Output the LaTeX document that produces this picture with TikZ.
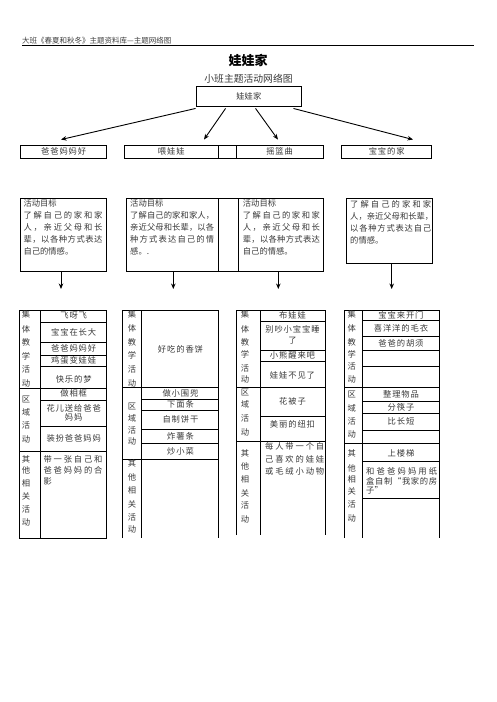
\documentclass[tikz,border=0pt]{standalone}
\usepackage{fontspec}
\setmainfont{Noto Sans CJK SC}
\usetikzlibrary{arrows.meta}
\makeatletter
\def\jlx#1#2{#1\ifx\relax#2\expandafter\@gobble\else\hfil\expandafter\@firstofone\fi{\jlx#2}}
\def\spx#1#2{#1\ifx\relax#2\expandafter\@gobble\else\kern0.9pt\expandafter\@firstofone\fi{\spx#2}}
\makeatother
\newcommand{\jl}[2]{\makebox[#1pt][s]{\jlx#2\relax}}
\tikzset{
  txt/.style={inner sep=0pt, font=\fontsize{8.3}{10}\selectfont, text=black!78, text height=7.1pt, text depth=1.2pt},
  box/.style={draw, line width=0.9pt, inner sep=0pt, font=\fontsize{8.3}{10}\selectfont, text=black!78},
  arr/.style={line width=0.9pt, -{Stealth[length=5.5pt,width=4.5pt]}},
  grid/.style={line width=0.9pt}
}
\begin{document}
\begin{tikzpicture}[x=1pt,y=-1pt]
\useasboundingbox (0,0) rectangle (496,702);
% header
\node[inner sep=0pt, anchor=west, font=\fontsize{7.5}{8}\selectfont, text=black!75] (hdr) at (22,41) {大班《春夏和秋冬》主题资料库—主题网络图};
\draw[line width=0.9pt] (22,45.7) -- (474,45.7);
\node[inner sep=0pt, font=\fontsize{13}{15}\selectfont\bfseries] (title) at (248,60.7) {娃娃家};
\node[inner sep=0pt, font=\fontsize{9.8}{12}\selectfont, text=black!78] (subt) at (248.5,79) {小班主题活动网络图};
\node[box, minimum width=105.7pt, minimum height=20.7pt] (root) at (248.85,96.35) {娃娃家};
% level 1
\node[box, minimum width=86pt, minimum height=13pt] (b1) at (63.7,151.8) {\spx 爸爸妈妈好\relax};
\node[box, minimum width=94pt, minimum height=13pt] (b2) at (171.3,151.8) {\spx 喂娃娃\relax};
\node[box, minimum width=17.7pt, minimum height=13pt] (bm) at (227.15,151.8) {};
\node[box, minimum width=87.3pt, minimum height=13pt] (b3) at (279.65,151.8) {\spx 摇篮曲\relax};
\node[box, minimum width=90pt, minimum height=13pt] (b4) at (386.7,151.8) {\spx 宝宝的家\relax};
\draw[arr] ([shift={(0,1.3)}]root.south west) -- ([shift={(-2.7,-5.3)}]b1.north);
\draw[arr] ([shift={(30,1.3)}]root.south west) -- ([shift={(32.7,-5.3)}]b2.north);
\draw[arr] ([shift={(60,1.3)}]root.south west) -- ([shift={(-1.7,-5.3)}]b3.north);
\draw[arr] ([shift={(-8.7,1.3)}]root.south east) -- ([shift={(26.3,-5.3)}]b4.north);
% goals
\node[box, minimum width=85.3pt, minimum height=72.7pt] (g1) at (63.35,234.65) {};
\node[box, minimum width=92.3pt, minimum height=72.7pt] (g2) at (172.15,234.65) {};
\node[box, minimum width=19.7pt, minimum height=72.7pt] (gm) at (228.15,234.65) {};
\node[box, minimum width=85pt, minimum height=72.7pt] (g3) at (280.5,234.65) {};
\node[box, minimum width=85.6pt, minimum height=65pt] (g4) at (389.5,230.5) {};
\node[txt, anchor=west] (g1a) at (23.3,204) {活动目标};
\node[txt, anchor=west] (g1b) at (23.3,216) {\jl{79}{了解自己的家和家}};
\node[txt, anchor=west] (g1c) at (23.3,227.7) {\jl{79}{人，亲近父母和长}};
\node[txt, anchor=west] (g1d) at (23.3,240) {\jl{79}{辈，以各种方式表达}};
\node[txt, anchor=west] (g1e) at (23.3,251.7) {自己的情感。};
\node[txt, anchor=west] (g2a) at (130,204) {活动目标};
\node[txt, anchor=west] (g2b) at (130,216) {\jl{84}{了解自己的家和家人，}};
\node[txt, anchor=west] (g2c) at (130,227.7) {\jl{84}{亲近父母和长辈，以各}};
\node[txt, anchor=west] (g2d) at (130,240) {\jl{84}{种方式表达自己的情}};
\node[txt, anchor=west] (g2e) at (130,251.7) {感。.};
\node[txt, anchor=west] (g3a) at (242.7,204) {活动目标};
\node[txt, anchor=west] (g3b) at (242.7,216) {\jl{77}{了解自己的家和家}};
\node[txt, anchor=west] (g3c) at (242.7,227.7) {\jl{77}{人，亲近父母和长}};
\node[txt, anchor=west] (g3d) at (242.7,240) {\jl{77}{辈，以各种方式表达}};
\node[txt, anchor=west] (g3e) at (242.7,251.7) {自己的情感。};
\node[txt, anchor=west] (g4a) at (350,205) {\jl{81}{了解自己的家和家}};
\node[txt, anchor=west] (g4b) at (350,217) {\jl{83}{人，亲近父母和长辈，}};
\node[txt, anchor=west] (g4c) at (350,229) {\jl{81}{以各种方式表达自己}};
\node[txt, anchor=west] (g4d) at (350,241) {的情感。};
\coordinate (e1) at (61,289);
\coordinate (e2) at (173.3,289);
\coordinate (e3) at (278.3,289);
\coordinate (e4) at (391.7,289);
\draw[arr] (g1.south -| e1) -- (e1);
\draw[arr] (g2.south -| e2) -- (e2);
\draw[arr] (g3.south -| e3) -- (e3);
\draw[arr] (g4.south -| e4) -- (e4);
% table 1
\draw[grid] (19,310) rectangle (106.7,538.3);
\draw[grid] (40.7,310) -- (40.7,538.3);
\foreach \y in {388.3,451.7} \draw[grid] (19,\y) -- (106.7,\y);
\foreach \y in {322.7,342.3,355,366,400,426.7} \draw[grid] (40.7,\y) -- (106.7,\y);
\foreach \c/\y [count=\i] in {集/315,体/329.3,教/342.7,学/356.7,活/370,动/383.3,区/400,域/412.7,活/426,动/439.3,其/459.3,他/470.7,相/484,关/496.7,活/509.3,动/522.7}
  \node[txt] (la\i) at (26,\y) {\c};
\foreach \t/\y [count=\i] in {飞呀飞/316,宝宝在长大/332.5,爸爸妈妈好/348.7,鸡蛋变娃娃/360.7,快乐的梦/379.3,做相框/394,花儿送给爸爸/408.5,妈妈/417.7,装扮爸爸妈妈/438.5}
  \node[txt] (ra\i) at (73.7,\y) {\expandafter\spx\t\relax};
\node[txt, anchor=west] (oa1) at (43.3,459.3) {\jl{59}{带一张自己和}};
\node[txt, anchor=west] (oa2) at (43.3,470.5) {\jl{59}{爸爸妈妈的合}};
\node[txt, anchor=west] (oa3) at (43.3,481.7) {影};
% table 2
\draw[grid] (122.3,538) -- (122.3,310) -- (218.3,310) -- (218.3,538);
\draw[grid] (141.7,310) -- (141.7,538);
\foreach \y in {387.3,459.3} \draw[grid] (122.3,\y) -- (218.3,\y);
\foreach \y in {399,410.7,429,443.3} \draw[grid] (141.7,\y) -- (218.3,\y);
\foreach \c/\y [count=\i] in {集/315,体/329,教/342.7,学/356,活/370,动/383.3,区/407,域/419,活/431,动/442,其/463.5,他/477.5,相/491,关/505,活/518,动/530}
  \node[txt] (lb\i) at (132,\y) {\c};
\foreach \t/\y [count=\i] in {好吃的香饼/349.3,做小围兜/393.3,下面条/405,自制饼干/419.8,炸薯条/436.2,炒小菜/451.5}
  \node[txt] (rb\i) at (180.5,\y) {\expandafter\spx\t\relax};
% table 3
\draw[grid] (236,535) -- (236,310) -- (325,310) -- (325,535);
\draw[grid] (260,310) -- (260,535);
\foreach \y in {387.3,441.7} \draw[grid] (236,\y) -- (325,\y);
\foreach \y in {321.7,350,361.7,416.7} \draw[grid] (260,\y) -- (325,\y);
\foreach \c/\y [count=\i] in {集/315,体/329.3,教/342.7,学/355,活/368.3,动/380,区/393,域/405,活/419,动/433,其/453.3,他/466.7,相/480,关/493.3,活/506,动/519.3}
  \node[txt] (lc\i) at (245,\y) {\c};
\foreach \t/\y [count=\i] in {布娃娃/316,别吵小宝宝睡/329.3,了/340.7,小熊醒来吧/356,娃娃不见了/376,花被子/401.7,美丽的纽扣/424.5}
  \node[txt] (rc\i) at (292.5,\y) {\expandafter\spx\t\relax};
\node[txt, anchor=west] (oc1) at (265,446.7) {\jl{59}{每人带一个自}};
\node[txt, anchor=west] (oc2) at (265,459.3) {\jl{59}{己喜欢的娃娃}};
\node[txt, anchor=west] (oc3) at (265,471.7) {\jl{59}{或毛绒小动物}};
% table 4
\draw[grid] (344,538) -- (344,310) -- (439.3,310) -- (439.3,538);
\draw[grid] (362.7,310) -- (362.7,538);
\foreach \y in {387.3,443.3} \draw[grid] (344,\y) -- (439.3,\y);
\foreach \y in {320.7,336,350,366.7,401.7,413.3,430,461.7,498.3} \draw[grid] (362.7,\y) -- (439.3,\y);
\foreach \c/\y [count=\i] in {集/315,体/328.5,教/342.7,学/355,活/366.7,动/379.3,区/395,域/408.3,活/421.7,动/435,其/453.3,他/468.3,相/480,关/491.7,活/505,动/518.3}
  \node[txt] (ld\i) at (351.7,\y) {\c};
\foreach \t/\y [count=\i] in {宝宝来开门/316,喜洋洋的毛衣/328.8,爸爸的胡须/343.3,整理物品/395,分筷子/407.5,比长短/421.7,上楼梯/453.3}
  \node[txt] (rd\i) at (401,\y) {\expandafter\spx\t\relax};
\node[txt, anchor=west] (od1) at (366,471.7) {\jl{71}{和爸爸妈妈用纸}};
\node[txt, anchor=west] (od2) at (366,481.7) {\jl{71}{盒自制“我家的房}};
\node[txt, anchor=west] (od3) at (366,491) {子”};
\end{tikzpicture}
\end{document}
